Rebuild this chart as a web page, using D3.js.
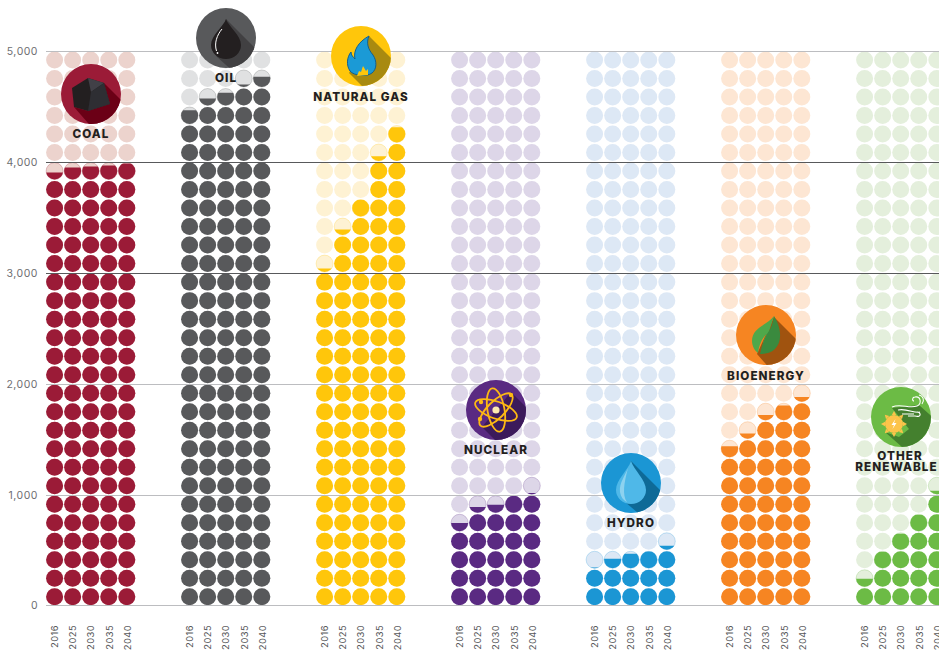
<!DOCTYPE html>
<html>
<head>
<meta charset="utf-8">
<script src="https://cdn.jsdelivr.net/npm/d3@7"></script>
<style>
    html, body { margin: 0; padding: 0; background: #fff; overflow: hidden; }
    svg { display: block; }
    text { font-family: Inter, "Open Sans", sans-serif; }
    .y-os text { font-size: 10.5px; fill: #6d6e71; letter-spacing: 0.5px; }
    .x-os text { font-size: 9.3px; fill: #58595b; letter-spacing: 0.45px; }
    .oznaka { font-size: 11.7px; font-weight: 800; fill: #231f20; text-anchor: middle; letter-spacing: 1.05px; }
</style>
</head>
<body>
<div id="graf"></div>
<script>
// 1. Podaci
const years = ["2016", "2025", "2030", "2035", "2040"];
const sources = ["coal", "oil", "gas", "nuclear", "hydro", "bio", "other"];
const yTicks = [0, 1000, 2000, 3000, 4000, 5000];

const coalValues = [3902, 3947, 3956, 3965, 3983];
const oilValues = [4465, 4571, 4622, 4697, 4767];
const gasValues = [3035, 3387, 3660, 4050, 4312];
const nuclearValues = [738, 882, 903, 985, 1009];
const hydroValues = [335, 415, 460, 482, 533];
const bioValues = [1430, 1545, 1713, 1798, 1876];
const otherValues = [235, 479, 641, 813, 1030];
const values = [coalValues, oilValues, gasValues, nuclearValues, hydroValues, bioValues, otherValues];

const darkColors = ["#9b1b37", "#58595b", "#ffc60b", "#5a2a82", "#1b96d4", "#f68522", "#6cbb45"];
const lightColors = ["#ecd3cd", "#e0e1e2", "#fef2d3", "#ddd6e8", "#dde8f5", "#fde6d3", "#e4efdc"];
const shadowColors = ["#6b0016", "#414042", "#a88a10", "#3c1a5b", "#0e6a97", "#a0530f", "#44802e"];
const labels = [["COAL"], ["OIL"], ["NATURAL GAS"], ["NUCLEAR"], ["HYDRO"], ["BIOENERGY"], ["OTHER", "RENEWABLE"]];

const unitsPerDot = 5000 / 30;

// 2. Dimenzije
const dimenzije = { sirina: 939, visina: 652, lijevo: 46, vrh: 51, dno: 604.7 };

const okvir = d3.select("#graf").append("svg")
    .attr("width", dimenzije.sirina)
    .attr("height", dimenzije.visina);

// 3. Skale
const ySkala = d3.scaleLinear().domain([0, 5000]).range([dimenzije.dno, dimenzije.vrh]);
// os koristi zaokruzene pozicije da linije ostanu ostre
const yOsSkala = d3.scaleLinear().domain([0, 5000]).range([605.4, 51]).interpolate(d3.interpolateRound);
const grupaSkala = d3.scalePoint().domain(sources).range([90.7, 900.7]);
const godinaSkala = d3.scalePoint().domain(years).range([-36.1, 36.1]);

const rows = d3.range(Math.round(5000 / unitsPerDot));
const redSkala = d3.scaleLinear().domain([0, rows.length - 1]).range([596.8, 60]);
const radius = 8.5;

// 4. Tockice
sources.forEach((source, g) => {
    const grupa = okvir.append("g")
        .attr("class", "grupa-" + source)
        .attr("transform", `translate(${grupaSkala(source)},0)`);

    years.forEach((year, i) => {
        const value = values[g][i];
        const x = godinaSkala(year);
        const clipId = `clip-${source}-${year}`;

        okvir.append("clipPath").attr("id", clipId)
            .append("rect")
            .attr("x", x - radius - 1)
            .attr("y", ySkala(value))
            .attr("width", radius * 2 + 2)
            .attr("height", ySkala(0) - ySkala(value) + 2);

        grupa.selectAll(null)
            .data(rows)
            .join("circle")
            .attr("cx", x)
            .attr("cy", d => redSkala(d))
            .attr("r", radius)
            .attr("fill", lightColors[g])
            // djelomicno popunjene imaju tanki obrub
            .attr("stroke", d => value > d * unitsPerDot && value < (d + 1) * unitsPerDot ? darkColors[g] : "none")
            .attr("stroke-opacity", 0.35)
            .attr("stroke-width", 0.7);

        grupa.append("g")
            .attr("clip-path", `url(#${clipId})`)
            .selectAll("circle")
            .data(rows)
            .join("circle")
            .attr("cx", x)
            .attr("cy", d => redSkala(d))
            .attr("r", radius)
            .attr("fill", darkColors[g]);
    });
});

// 5. Osi
const yOs = okvir.append("g")
    .attr("class", "y-os")
    .attr("transform", `translate(${dimenzije.lijevo},0)`)
    .call(d3.axisLeft(yOsSkala)
        .tickValues(yTicks)
        .tickSize(-(dimenzije.sirina - dimenzije.lijevo))
        .tickPadding(8)
        .tickFormat(d3.format(",")));
yOs.select(".domain").remove();
yOs.selectAll(".tick line")
    .attr("stroke", d => d === 3000 || d === 4000 ? "#58595b" : "#bcbdc0")
    .attr("stroke-width", 1);

sources.forEach(source => {
    const xOs = okvir.append("g")
        .attr("class", "x-os")
        .attr("transform", `translate(${grupaSkala(source)},0)`)
        .call(d3.axisBottom(godinaSkala).tickSize(0));
    xOs.select(".domain").remove();
    xOs.selectAll(".tick text")
        .attr("transform", "translate(0,625) rotate(-90)")
        .attr("dy", "0.35em")
        .attr("y", 0)
        .attr("x", 0)
        .style("text-anchor", "end");
});

// 6. Ikone: svaka je nacrtana oko (0,0) s polumjerom 30
const ikone = [
    { x: 91, y: 94, labelY: [138], labelX: [91],
      shadow: "M-17,13 L-3,17 L19,10 L13,-11 L45,21 L45,45 L11,45 Z",
      crtaj: g => {
          g.append("path").attr("d", "M-19,-6 L-3,-16 L13,-11 L19,10 L-3,17 L-17,13 Z").attr("fill", "#231f20");
          g.append("path").attr("d", "M-3,-16 L13,-11 L0,-2 Z").attr("fill", "#414047");
          g.append("path").attr("d", "M13,-11 L19,10 L-3,17 L0,-2 Z").attr("fill", "#2e2e33");
      } },
    { x: 226, y: 38, labelY: [82], labelX: [226],
      shadow: "M0,-19 L45,26 L45,45 L20,45 L-10,18 Z",
      crtaj: g => {
          g.append("path").attr("d", "M0,-19 C2,-12 15,-3 15,7 A15,14 0 0 1 -15,7 C-15,-3 -2,-12 0,-19 Z").attr("fill", "#231f20");
          g.append("path").attr("d", "M-4,-9 C-9,-3 -12,5 -9.5,13").attr("fill", "none").attr("stroke", "#fff").attr("stroke-width", 1);
          g.append("circle").attr("cx", -8.5).attr("cy", 15).attr("r", 0.9).attr("fill", "#fff");
      } },
    { x: 361, y: 56, labelY: [101], labelX: [361],
      shadow: "M8,-20 L45,17 L45,45 L16,45 L-12,17 Z",
      crtaj: g => {
          g.append("path")
              .attr("d", "M8,-20 C-3,-14 -8,-5 -6,3 C-8,1 -10,-1 -10,-4 C-14,1 -15,9 -11,15 C-7,20 6,21 11,17 C16,13 16,5 12,-1 C7,-7 5,-13 8,-20 Z")
              .attr("fill", "#1b9ad6").attr("stroke", "#11608f").attr("stroke-width", 1);
          g.append("path").attr("d", "M-4,20 L-2,15 L0,16 L2,10 L5,15 L7,13 L7,19 Z").attr("fill", "#ffc60b");
      } },
    { x: 496, y: 410, labelY: [454], labelX: [496],
      shadow: "M-14,17 L15,-18 L45,12 L45,45 L14,45 Z",
      crtaj: g => {
          [20, 80, -45].forEach(kut => {
              g.append("ellipse").attr("rx", 22).attr("ry", 8.5)
                  .attr("transform", `rotate(${kut})`)
                  .attr("fill", "none").attr("stroke", "#fdb913").attr("stroke-width", 1.8);
          });
          g.append("circle").attr("r", 3.6).attr("fill", "#fde9b0");
          [[-16, 9], [15, -15], [-15, -8]].forEach(p => {
              g.append("circle").attr("cx", p[0]).attr("cy", p[1]).attr("r", 2.2).attr("fill", "#fdb913");
          });
      } },
    { x: 631, y: 483, labelY: [527], labelX: [631],
      shadow: "M0,-22 L45,23 L45,45 L25,45 L-12,14 Z",
      crtaj: g => {
          g.append("path").attr("d", "M0,-22 C3,-13 15,-3 15,7 A15,14 0 0 1 -15,7 C-15,-3 -3,-13 0,-22 Z").attr("fill", "#4fb8e8");
          g.append("path").attr("d", "M-3,-15 C-6,-7 -12,0 -11,9 C-10,14 -8,17 -4,19 C-9,12 -7,0 -3,-15 Z").attr("fill", "#8dd2ef");
      } },
    { x: 766, y: 335, labelY: [380], labelX: [766],
      shadow: "M8,-18 L45,19 L45,45 L14,45 L-9,19 Z",
      crtaj: g => {
          g.append("path").attr("d", "M8,-19 C2,-10 -14,-8 -14,6 C-14,11 -11,16 -8,18 C-7,10 -4,3 1,-1 C-3,5 -4,11 -3,15 Z").attr("fill", "#4fa84a");
          g.append("path").attr("d", "M8,-19 C17,-4 15,8 9,14 C5,18 -1,19 -6,19 C-4,10 -2,5 1,-1 C5,-6 7,-12 8,-19 Z").attr("fill", "#3a8a3e");
      } },
    { x: 901, y: 417, labelY: [460, 471], labelX: [900, 896.5],
      shadow: "M-16,15 L-2,20 L8,12 L-9,-9 L18,-12 L45,12 L45,45 L18,45 Z",
      crtaj: g => {
          const sunce = g.append("g").attr("transform", "translate(-7,7)");
          d3.range(8).forEach(k => {
              sunce.append("path").attr("d", "M-2.2,-9 L0,-13 L2.2,-9 Z")
                  .attr("transform", `rotate(${k * 45})`).attr("fill", "#fcc44a");
          });
          sunce.append("circle").attr("r", 9).attr("fill", "#fcc44a");
          sunce.append("path").attr("d", "M1.5,-5 L-2.5,1 L0,1 L-1.5,5 L2.5,-1 L0,-1 Z").attr("fill", "#fff");
          g.append("path")
              .attr("d", "M-9,-10 C0,-14 8,-8 16,-11 C21,-13 20,-21 14,-20 C11,-20 11,-16 13,-16 M-3,-7 C6,-9 14,-3 19,-5 M1,-3 L13,-3 M7,-1 L14,-1 C21,1 20,-5 16,-5 M18,-22 C22,-21 24,-17 21,-13")
              .attr("fill", "none").attr("stroke", "#fff").attr("stroke-width", 1.1);
      } }
];

ikone.forEach((ikona, g) => {
    const clipId = "ikona-clip-" + sources[g];
    okvir.append("clipPath").attr("id", clipId).append("circle").attr("r", 30);

    const ikonaG = okvir.append("g").attr("transform", `translate(${ikona.x},${ikona.y})`);
    ikonaG.append("circle").attr("r", 30).attr("fill", darkColors[g]);
    ikonaG.append("path").attr("d", ikona.shadow)
        .attr("fill", shadowColors[g])
        .attr("clip-path", `url(#${clipId})`);
    ikona.crtaj(ikonaG);

    labels[g].forEach((redak, i) => {
        okvir.append("text")
            .attr("class", "oznaka")
            .attr("x", ikona.labelX[i])
            .attr("y", ikona.labelY[i])
            .text(redak);
    });
});
</script>
</body>
</html>
